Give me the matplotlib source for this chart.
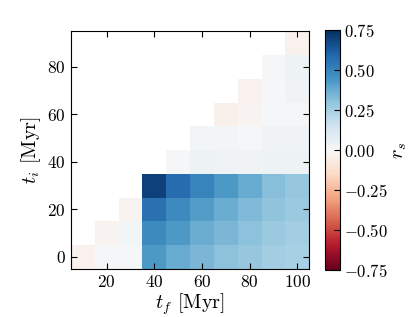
import numpy as np
import matplotlib
matplotlib.use("Agg")
import matplotlib.pyplot as plt

plt.rcParams['font.family'] = 'serif'
plt.rcParams['font.serif'] = ['cmr10']
plt.rcParams['mathtext.fontset'] = 'cm'
plt.rcParams['axes.formatter.use_mathtext'] = True
plt.rcParams['axes.unicode_minus'] = True

t_f = [10, 20, 30, 40, 50, 60, 70, 80, 90, 100]
t_i = [0, 10, 20, 30, 40, 50, 60, 70, 80, 90]

# rows: t_i, columns: t_f ; None where t_f <= t_i
row_0 = [-0.03, 0.01, 0.01, 0.43, 0.38, 0.34, 0.31, 0.29, 0.26, 0.25]
row_10 = [None, -0.02, 0.02, 0.48, 0.43, 0.37, 0.34, 0.31, 0.28, 0.26]
row_20 = [None, None, -0.02, 0.56, 0.48, 0.42, 0.37, 0.33, 0.30, 0.28]
row_30 = [None, None, None, 0.70, 0.58, 0.50, 0.43, 0.38, 0.32, 0.29]
row_40 = [None, None, None, None, 0.01, 0.04, 0.03, 0.03, 0.04, 0.04]
row_50 = [None, None, None, None, None, 0.02, 0.02, 0.01, 0.03, 0.03]
row_60 = [None, None, None, None, None, None, -0.04, -0.02, 0.01, 0.01]
row_70 = [None, None, None, None, None, None, None, -0.03, 0.01, 0.03]
row_80 = [None, None, None, None, None, None, None, None, 0.01, 0.04]
row_90 = [None, None, None, None, None, None, None, None, None, -0.03]

rows = [row_0, row_10, row_20, row_30, row_40, row_50, row_60, row_70, row_80, row_90]
Z = np.ma.masked_invalid(np.array([[np.nan if v is None else v for v in r] for r in rows], dtype=float))

xe = np.concatenate([[t_f[0] - 5], np.array(t_f) + 5])
ye = np.concatenate([[t_i[0] - 5], np.array(t_i) + 5])

fig = plt.figure(figsize=(4.15, 3.17), dpi=100)
ax = fig.add_axes([0.171, 0.152, 0.574, 0.749])
cax = fig.add_axes([0.783, 0.148, 0.037, 0.757])

mesh = ax.pcolormesh(xe, ye, Z, cmap='RdBu', vmin=-0.75, vmax=0.75)
ax.set_xlim(5, 105)
ax.set_ylim(-5, 95)
ax.set_xticks([20, 40, 60, 80, 100])
ax.set_yticks([0, 20, 40, 60, 80])
ax.tick_params(direction='in', top=True, right=True, labelsize=12.5, length=4, pad=4)
ax.set_xlabel(r'$t_f$ [Myr]', fontsize=14.5, labelpad=1)
ax.set_ylabel(r'$t_i$ [Myr]', fontsize=14.5, labelpad=3)

cb = fig.colorbar(mesh, cax=cax, ticks=[-0.75, -0.5, -0.25, 0, 0.25, 0.5, 0.75])
cb.ax.tick_params(direction='in', labelsize=12, length=4, pad=3)
cb.ax.set_yticklabels([r'$-0.75$', r'$-0.50$', r'$-0.25$', r'$0.00$', r'$0.25$', r'$0.50$', r'$0.75$'])
cb.set_label(r'$r_s$', fontsize=14.5, labelpad=2)

fig.savefig('out.png', dpi=100)
